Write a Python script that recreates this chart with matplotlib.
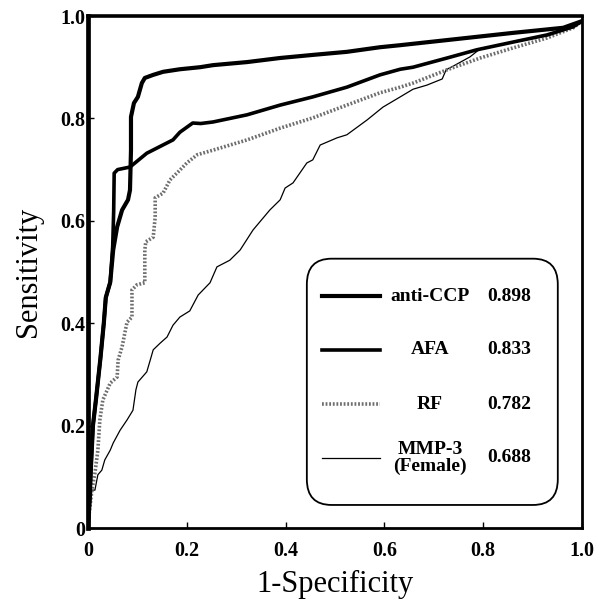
import matplotlib
matplotlib.use("Agg")
import matplotlib.pyplot as plt
from matplotlib.patches import FancyBboxPatch
from matplotlib.lines import Line2D

plt.rcParams['font.family'] = ['Liberation Serif', 'DejaVu Serif']

# ---- data ----
anticcp_x = [0.0, 0.003, 0.006, 0.010, 0.016, 0.025, 0.032, 0.036, 0.045, 0.051,
             0.059, 0.069, 0.081, 0.085, 0.087, 0.087, 0.093, 0.101, 0.109, 0.115,
             0.132, 0.152, 0.186, 0.227, 0.253, 0.322, 0.389, 0.455, 0.524, 0.591,
             0.632, 0.727, 0.860, 0.962, 1.0]
anticcp_y = [0.0, 0.05, 0.12, 0.20, 0.25, 0.33, 0.40, 0.45, 0.48, 0.543,
             0.588, 0.621, 0.641, 0.660, 0.738, 0.803, 0.830, 0.842, 0.869, 0.879,
             0.885, 0.891, 0.896, 0.900, 0.904, 0.910, 0.918, 0.924, 0.930, 0.939,
             0.943, 0.953, 0.967, 0.977, 0.99]

afa_x = [0.0, 0.003, 0.006, 0.010, 0.016, 0.025, 0.032, 0.036, 0.045, 0.050,
         0.052, 0.053, 0.060, 0.085, 0.119, 0.172, 0.186, 0.212, 0.228, 0.253,
         0.322, 0.389, 0.455, 0.524, 0.591, 0.632, 0.658, 0.727, 0.787, 0.860,
         0.929, 0.982, 1.0]
afa_y = [0.0, 0.05, 0.12, 0.20, 0.25, 0.33, 0.40, 0.45, 0.48, 0.55,
         0.62, 0.693, 0.700, 0.705, 0.732, 0.758, 0.773, 0.791, 0.790, 0.793,
         0.807, 0.826, 0.842, 0.861, 0.885, 0.896, 0.900, 0.918, 0.934, 0.949,
         0.963, 0.979, 0.99]

rf_x = [0.0, 0.002, 0.008, 0.014, 0.020, 0.024, 0.030, 0.045, 0.059, 0.061,
        0.069, 0.079, 0.089, 0.089, 0.099, 0.115, 0.115, 0.117, 0.132, 0.136,
        0.136, 0.152, 0.166, 0.186, 0.200, 0.221, 0.253, 0.322, 0.389, 0.455,
        0.524, 0.591, 0.632, 0.658, 0.727, 0.794, 0.860, 0.929, 0.982, 1.0]
rf_y = [0.0, 0.025, 0.074, 0.107, 0.152, 0.211, 0.250, 0.283, 0.295, 0.328,
        0.354, 0.402, 0.412, 0.465, 0.475, 0.479, 0.543, 0.559, 0.568, 0.607,
        0.645, 0.654, 0.680, 0.699, 0.713, 0.729, 0.738, 0.758, 0.781, 0.801,
        0.826, 0.850, 0.861, 0.869, 0.895, 0.918, 0.9375, 0.957, 0.977, 0.99]

mmp3_x = [0.0, 0.002, 0.004, 0.008, 0.014, 0.020, 0.028, 0.034, 0.045, 0.051,
          0.065, 0.079, 0.091, 0.097, 0.101, 0.119, 0.126, 0.132, 0.146, 0.160,
          0.172, 0.186, 0.206, 0.223, 0.247, 0.261, 0.287, 0.308, 0.334, 0.368,
          0.389, 0.399, 0.415, 0.443, 0.455, 0.470, 0.504, 0.524, 0.565, 0.597,
          0.632, 0.658, 0.686, 0.717, 0.725, 0.739, 0.773, 0.794, 0.828, 0.874,
          0.929, 0.982, 1.0]
mmp3_y = [0.0, 0.016, 0.041, 0.074, 0.074, 0.104, 0.113, 0.133, 0.152, 0.166,
          0.191, 0.211, 0.230, 0.270, 0.285, 0.305, 0.328, 0.348, 0.361, 0.373,
          0.396, 0.412, 0.424, 0.455, 0.479, 0.510, 0.523, 0.543, 0.582, 0.621,
          0.641, 0.664, 0.674, 0.713, 0.719, 0.748, 0.762, 0.768, 0.797, 0.822,
          0.842, 0.857, 0.865, 0.877, 0.895, 0.902, 0.920, 0.936, 0.943, 0.953,
          0.961, 0.977, 0.99]

legend_names = ['anti-CCP', 'AFA', 'RF', 'MMP-3\n(Female)']
legend_auc = ['0.898', '0.833', '0.782', '0.688']

x_ticks = [0, 0.2, 0.4, 0.6, 0.8, 1.0]
x_tick_labels = ['0', '0.2', '0.4', '0.6', '0.8', '1.0']
y_ticks = [0, 0.2, 0.4, 0.6, 0.8, 1.0]
y_tick_labels = ['0', '0.2', '0.4', '0.6', '0.8', '1.0']

# ---- styles ----
styles = [
    dict(color='black', lw=3.0, ls='-'),
    dict(color='black', lw=2.6, ls='-'),
    dict(color='#6e6e6e', lw=2.6, ls=(0, (0.5, 0.5))),
    dict(color='black', lw=0.9, ls='-'),
]

fig = plt.figure(figsize=(6.03, 6.09), dpi=100)
ax = fig.add_axes([88 / 603, 1 - 528 / 609, (582 - 88) / 603, (528 - 16) / 609])

series = [(anticcp_x, anticcp_y), (afa_x, afa_y), (rf_x, rf_y), (mmp3_x, mmp3_y)]
order = [3, 2, 1, 0]
for i in order:
    xs, ys = series[i]
    ax.plot(xs, ys, solid_joinstyle='round', solid_capstyle='round', zorder=3 + (3 - i), **styles[i])

ax.set_xlim(0, 1)
ax.set_ylim(0, 1)
ax.set_xticks(x_ticks)
ax.set_xticklabels(x_tick_labels, fontweight='bold', fontsize=14.5)
ax.set_yticks(y_ticks)
ax.set_yticklabels(y_tick_labels, fontweight='bold', fontsize=14.5)
ax.tick_params(axis='both', direction='in', length=4, width=1)
ax.tick_params(axis='x', pad=9)
ax.tick_params(axis='y', pad=2)

ax.spines['left'].set_linewidth(3.4)
ax.spines['top'].set_linewidth(2.6)
ax.spines['bottom'].set_linewidth(2.0)
ax.spines['right'].set_linewidth(2.0)

ax.set_xlabel('1-Specificity', fontsize=22, labelpad=7)
ax.set_ylabel('Sensitivity', fontsize=22, labelpad=12)

# ---- legend box ----
box = FancyBboxPatch((0.443, 0.045), 0.951 - 0.443, 0.526 - 0.045,
                     boxstyle='round,pad=0,rounding_size=0.05',
                     transform=ax.transAxes, facecolor='white', edgecolor='black',
                     lw=1.3, zorder=10)
ax.add_patch(box)
row_y = [0.453, 0.348, 0.242, 0.137]
for i in range(4):
    st = styles[i]
    ln = Line2D([0.474, 0.591], [row_y[i], row_y[i]], transform=ax.transAxes,
                color=st['color'], lw=st['lw'], ls=st['ls'], zorder=11)
    ax.add_line(ln)
    ax.text(0.692, row_y[i], legend_names[i], transform=ax.transAxes,
            ha='center', va='center', fontsize=14, fontweight='bold',
            linespacing=0.95, zorder=12)
    ax.text(0.852, row_y[i], legend_auc[i], transform=ax.transAxes,
            ha='center', va='center', fontsize=14, fontweight='bold', zorder=12)

fig.savefig('out.png', dpi=100)
